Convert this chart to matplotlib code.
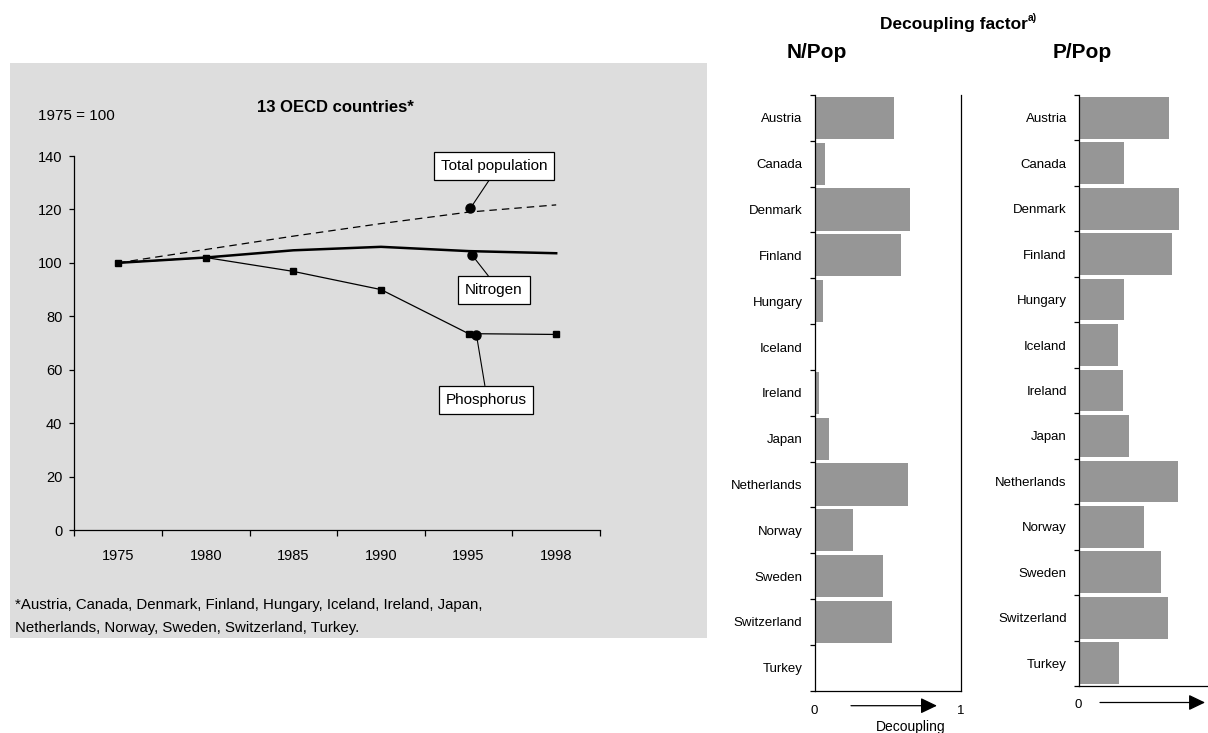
import matplotlib
matplotlib.use("Agg")
import matplotlib.pyplot as plt
from matplotlib.patches import Rectangle

plt.rcParams["font.family"] = ["Liberation Sans", "DejaVu Sans"]

# --- data -------------------------------------------------------------
years = ["1975", "1980", "1985", "1990", "1995", "1998"]
total_population = [100, 105, 110, 114.7, 119, 121.7]
nitrogen = [100, 102, 104.7, 106, 104.4, 103.6]
phosphorus = [100, 102, 96.8, 90, 73.5, 73.2]

countries = ["Austria", "Canada", "Denmark", "Finland", "Hungary", "Iceland",
             "Ireland", "Japan", "Netherlands", "Norway", "Sweden",
             "Switzerland", "Turkey"]
n_pop = [0.54, 0.07, 0.65, 0.59, 0.055, 0.0, 0.027, 0.096, 0.64, 0.26,
         0.47, 0.53, 0.0]
p_pop = [0.616, 0.31, 0.685, 0.636, 0.307, 0.266, 0.30, 0.34, 0.678,
         0.445, 0.56, 0.61, 0.27]

W, H = 1208, 733
BAR_GREY = "#969696"
PANEL_GREY = "#dddddd"


def fx(px):
    return px / W


def fy(py):
    return 1 - py / H


fig = plt.figure(figsize=(W / 100, H / 100), dpi=100)

# grey background behind the trend chart
fig.patches.append(Rectangle((fx(10), fy(638)), fx(707 - 10), (638 - 63) / H,
                             transform=fig.transFigure, facecolor=PANEL_GREY,
                             edgecolor="none", zorder=-1))

# --- trend chart ------------------------------------------------------
ax = fig.add_axes([fx(74.3), fy(530), fx(600 - 74.3), (530 - 156) / H])
ax.set_facecolor("none")
ax.set_zorder(1)
x = list(range(len(years)))

ax.plot(x, total_population, color="black", lw=0.9, ls=(0, (6, 4)))
ax.plot(x, nitrogen, color="black", lw=1.8)
ax.plot(x, phosphorus, color="black", lw=0.9, marker="s", markersize=4.2)

ax.set_xlim(-0.5, 5.5)
ax.set_ylim(0, 140)
ax.set_yticks(range(0, 141, 20))
ax.set_xticks(x)
ax.set_xticklabels(years)
ax.set_xticks([i - 0.5 for i in range(len(years) + 1)], minor=True)
ax.tick_params(axis="x", which="major", length=0, pad=14, labelsize=10.5)
ax.tick_params(axis="x", which="minor", length=4, width=0.9)
ax.tick_params(axis="y", length=3.5, width=0.9, pad=5, labelsize=10.5)
for side in ("top", "right"):
    ax.spines[side].set_visible(False)
for side in ("left", "bottom"):
    ax.spines[side].set_linewidth(0.9)

# callouts
callouts = [
    ("Total population", (4.02, 120.4), (4.29, 136.3), (0.5, 0.0)),
    ("Nitrogen", (4.04, 102.9), (4.29, 89.8), (0.5, 1.0)),
    ("Phosphorus", (4.09, 73.0), (4.20, 48.7), (0.5, 1.0)),
]
for label, pt, txt, rel in callouts:
    ax.plot(*pt, marker="o", color="black", markersize=6.5, zorder=4)
    ax.annotate(label, xy=pt, xytext=txt, ha="center", va="center",
                fontsize=11,
                bbox=dict(boxstyle="square,pad=0.45", fc="white", ec="black",
                          lw=0.9),
                arrowprops=dict(arrowstyle="-", color="black", lw=0.8,
                                shrinkA=0, shrinkB=0, relpos=rel))

fig.text(fx(37.5), fy(115.7), "1975 = 100", fontsize=11, va="center")
fig.text(fx(335), fy(108), "13 OECD countries*", fontsize=12,
         fontweight="bold", ha="center", va="center")
fig.text(fx(14.6), fy(605),
         "*Austria, Canada, Denmark, Finland, Hungary, Iceland, Ireland, Japan,",
         fontsize=10.8, va="center")
fig.text(fx(14.6), fy(628),
         "Netherlands, Norway, Sweden, Switzerland, Turkey.",
         fontsize=10.8, va="center")

# --- decoupling bar panels --------------------------------------------
UNIT = 145.7  # pixels per unit of decoupling factor


def bar_panel(left, bottom, right, values, right_spine):
    a = fig.add_axes([fx(left), fy(bottom), fx(right - left), (bottom - 95) / H])
    pos = list(range(len(countries)))
    a.barh(pos, values, height=0.92, color=BAR_GREY, edgecolor="none")
    a.set_ylim(len(countries) - 0.5, -0.5)
    a.set_xlim(0, (right - left) / UNIT)
    a.set_yticks(pos)
    a.set_yticklabels(countries)
    a.set_yticks([i - 0.5 for i in range(len(countries) + 1)], minor=True)
    a.tick_params(axis="y", which="major", length=0, pad=9, labelsize=9.5)
    a.tick_params(axis="y", which="minor", length=3.5, width=0.9)
    a.set_xticks([])
    a.spines["top"].set_visible(False)
    a.spines["right"].set_visible(right_spine)
    for s in ("left", "bottom", "right"):
        a.spines[s].set_linewidth(0.9)
    return a


ax_n = bar_panel(815, 690.7, 960.7, n_pop, True)
ax_p = bar_panel(1079.3, 686, 1208, p_pop, False)


def decoupling_arrow(a, x0, x1, y_px, bottom_px, top_px):
    yf = (bottom_px - y_px) / (bottom_px - top_px)
    a.annotate("", xy=(x1, yf), xytext=(x0, yf),
               xycoords=("data", "axes fraction"),
               textcoords=("data", "axes fraction"),
               arrowprops=dict(arrowstyle="-|>,head_length=1.0,head_width=0.48",
                               mutation_scale=10, color="black", lw=0.9,
                               shrinkA=0, shrinkB=0))


decoupling_arrow(ax_n, 0.247, 0.837, 705.7, 690.7, 95)
decoupling_arrow(ax_p, 0.142, 0.863, 702.5, 686, 95)

fig.text(fx(814), fy(711), "0", fontsize=9.5, ha="center", va="center")
fig.text(fx(961), fy(711), "1", fontsize=9.5, ha="center", va="center")
fig.text(fx(1078), fy(705), "0", fontsize=9.5, ha="center", va="center")
fig.text(fx(911), fy(727), "Decoupling", fontsize=10, ha="center", va="center")

title = fig.text(fx(880), fy(25), "Decoupling factor", fontsize=12.5,
                 fontweight="bold", ha="left", va="center")
ax_n.annotate("a)", xy=(1.0, 0.95), xycoords=title, ha="left", va="center",
              fontsize=7.5, fontweight="bold")
fig.text(fx(817), fy(53), "N/Pop", fontsize=15, fontweight="bold",
         ha="center", va="center")
fig.text(fx(1082), fy(53), "P/Pop", fontsize=15, fontweight="bold",
         ha="center", va="center")

fig.savefig("out.png", dpi=100)
